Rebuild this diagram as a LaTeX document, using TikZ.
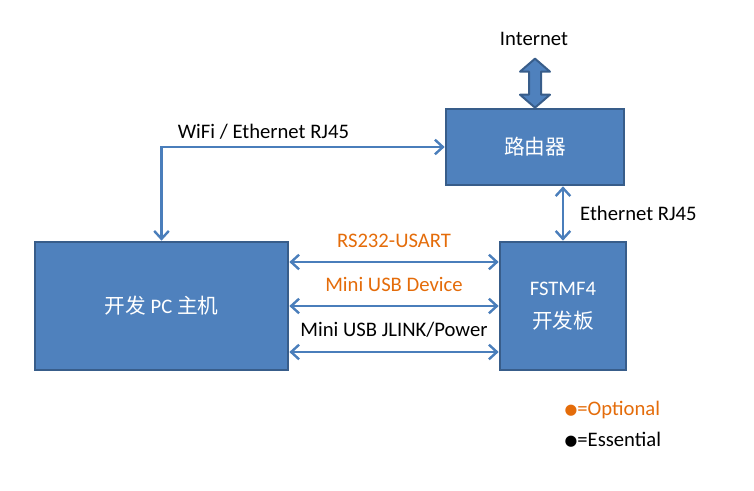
\documentclass[tikz,border=0pt]{standalone}
\usepackage{fontspec}
\setmainfont{Carlito}
\newfontfamily\cjk{Noto Sans CJK SC}
\newfontfamily\sym{DejaVu Sans}
\usetikzlibrary{positioning,calc,arrows.meta}
\definecolor{boxfill}{HTML}{4F81BD}
\definecolor{boxline}{HTML}{385D8A}
\definecolor{linkcol}{HTML}{4A7EBB}
\definecolor{opt}{HTML}{E46C0A}
\newcommand{\dotmark}{\raisebox{0.6pt}{\sym\fontsize{11}{12}\selectfont ●}}
\tikzset{
  hw/.style={rectangle, draw=boxline, fill=boxfill, line width=2pt, text=white, align=center, font=\fontsize{15.5}{18}\selectfont},
  lbl/.style={font=\fontsize{15.5}{18}\selectfont, inner sep=1pt},
  link/.style={draw=linkcol, line width=1.8pt, {Straight Barb[length=6pt,width=11pt]}-{Straight Barb[length=6pt,width=11pt]}},
  fat/.style={draw=boxline, fill=boxfill, line width=1.5pt, line join=round}
}
\begin{document}
\begin{tikzpicture}[x=0.75pt, y=-0.75pt]
	\useasboundingbox (0,0) rectangle (754,490);
	\node[hw, minimum width=189.75pt, minimum height=96pt] (pc) at (161.5,306) {{\cjk 开发} PC {\cjk 主机}};
	\node[hw, minimum width=94.5pt, minimum height=96pt] (board) at (563,306) {FSTMF4\\[7pt]{\cjk 开发板}};
	\node[hw, minimum width=133.5pt, minimum height=57pt] (router) at (535,147) {\cjk 路由器};
	\node[lbl] (inet) at (534,39) {Internet};
	%
	\draw[fat] (router.north) -- ++(-15,-13) -- ++(9,0) -- ++(0,-23) -- ++(-9,0) -- ++(15,-13)
	  -- ++(15,13) -- ++(-9,0) -- ++(0,23) -- ++(9,0) -- cycle;
	\draw[link] (pc.north) |- node[lbl, above=4pt, pos=0.68] {WiFi / Ethernet RJ45} (router.west);
	\draw[link] (board.north |- router.south) -- node[lbl, right=11pt] {Ethernet RJ45} (board.north);
	\draw[link] (pc.east |- 0,262) -- node[lbl, above=9pt, text=opt] {RS232-USART} (board.west |- 0,262);
	\draw[link] (pc.east |- 0,306) -- node[lbl, above=9pt, text=opt] {Mini USB Device} (board.west |- 0,306);
	\draw[link] (pc.east |- 0,352) -- node[lbl, above=9pt] {Mini USB JLINK/Power} (board.west |- 0,352);
	%
	\node[lbl, anchor=west, text=opt] (optional) at (563,410) {\dotmark=Optional};
	\node[lbl, anchor=west] (essential) at (563,440) {\dotmark=Essential};
\end{tikzpicture}
\end{document}
